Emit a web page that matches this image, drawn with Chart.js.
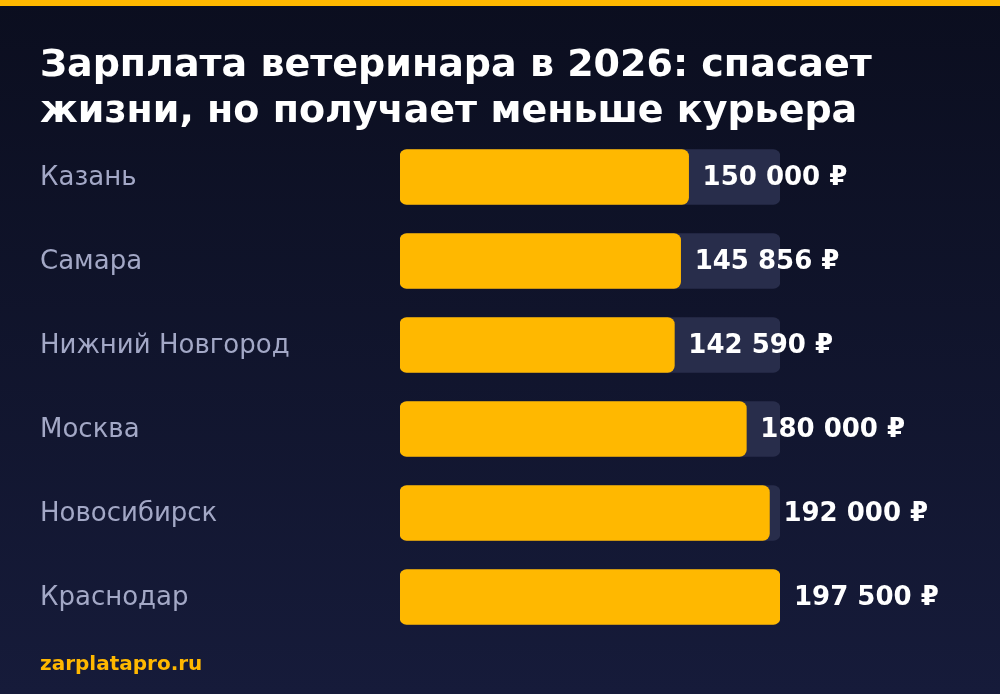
<!DOCTYPE html>
<html>
<head>
  <meta charset="utf-8">
  <title>Зарплата ветеринара</title>
  <script src="https://cdn.jsdelivr.net/npm/chart.js"></script>
  <style>
    html, body { margin: 0; padding: 0; background: #0c0f20; }
    #wrap { width: 1000px; height: 694px; }
  </style>
</head>
<body>
  <div id="wrap"><canvas id="salaryChart" width="1000" height="694"></canvas></div>

  <script>
    const titleLines = ['Зарплата ветеринара в 2026: спасает', 'жизни, но получает меньше курьера'];
    const cities = ['Казань', 'Самара', 'Нижний Новгород', 'Москва', 'Новосибирск', 'Краснодар'];
    const salaries = [150000, 145856, 142590, 180000, 192000, 197500];
    const source = 'zarplatapro.ru';

    const maxSalary = Math.max(...salaries);
    const trackData = cities.map(() => maxSalary);

    const fmt = v => v.toString().replace(/\B(?=(\d{3})+(?!\d))/g, ' ') + ' ₽';

    const decor = {
      id: 'decor',
      beforeDraw(chart) {
        const c = chart.ctx;
        const g = c.createLinearGradient(0, 0, 0, chart.height);
        g.addColorStop(0, '#0b0e1f');
        g.addColorStop(1, '#161b3a');
        c.save();
        c.fillStyle = g;
        c.fillRect(0, 0, chart.width, chart.height);
        c.fillStyle = '#ffb800';
        c.fillRect(0, 0, chart.width, 6);

        c.fillStyle = '#ffffff';
        c.font = 'bold 38px "DejaVu Sans"';
        c.textBaseline = 'alphabetic';
        c.textAlign = 'left';
        titleLines.forEach((t, i) => c.fillText(t, 40, 76 + i * 46));

        c.fillStyle = '#ffb800';
        c.font = 'bold 20px "DejaVu Sans"';
        c.fillText(source, 40, 670);
        c.restore();
      },
      afterDatasetsDraw(chart) {
        const c = chart.ctx;
        const y = chart.scales.y;
        const meta = chart.getDatasetMeta(1);
        c.save();
        c.textBaseline = 'middle';
        c.textAlign = 'left';
        cities.forEach((name, i) => {
          const py = y.getPixelForValue(i);
          c.fillStyle = '#a3a8c6';
          c.font = '26px "DejaVu Sans"';
          c.fillText(name, 40, py + 1);
          c.fillStyle = '#ffffff';
          c.font = 'bold 26px "DejaVu Sans"';
          c.fillText(fmt(salaries[i]), meta.data[i].x + 14, py + 1);
        });
        c.restore();
      }
    };

    new Chart(document.getElementById('salaryChart'), {
      type: 'bar',
      data: {
        labels: cities,
        datasets: [
          {
            data: trackData,
            backgroundColor: '#282d4b',
            borderRadius: 7,
            borderSkipped: false,
            barThickness: 55,
            grouped: false,
            order: 2
          },
          {
            data: salaries,
            backgroundColor: '#ffb800',
            borderRadius: 7,
            borderSkipped: false,
            barThickness: 55,
            grouped: false,
            order: 1
          }
        ]
      },
      options: {
        indexAxis: 'y',
        responsive: false,
        animation: false,
        layout: { padding: { left: 400, right: 220, top: 135, bottom: 55 } },
        scales: {
          x: { display: false, min: 0, max: maxSalary },
          y: { display: false }
        },
        plugins: {
          legend: { display: false },
          tooltip: { enabled: false }
        }
      },
      plugins: [decor]
    });
  </script>
</body>
</html>
